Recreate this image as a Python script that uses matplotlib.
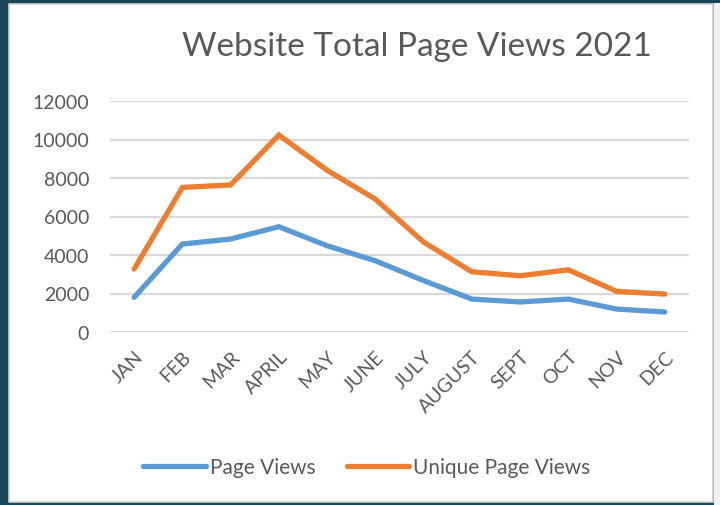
import matplotlib.pyplot as plt
from matplotlib.patches import Rectangle

months = ['JAN', 'FEB', 'MAR', 'APRIL', 'MAY', 'JUNE', 'JULY', 'AUGUST',
          'SEPT', 'OCT', 'NOV', 'DEC']
page_views = [1800, 4570, 4830, 5470, 4480, 3700, 2670, 1710, 1560, 1710, 1190, 1040]
unique_views = [3270, 7510, 7640, 10230, 8400, 6900, 4670, 3130, 2920, 3230, 2110, 1970]
yticks = [0, 2000, 4000, 6000, 8000, 10000, 12000]

plt.rcParams['font.family'] = ['Lato', 'DejaVu Sans']
txt = '#595959'

fig = plt.figure(figsize=(7.2, 5.06), dpi=100)
fig.patch.set_facecolor('#1a4756')
# white chart area with thin grey frame
fig.patches.append(Rectangle((9 / 720, 3 / 506), 704 / 720, 498 / 506,
                             transform=fig.transFigure, facecolor='white',
                             edgecolor='#d0d0d0', linewidth=1.2, zorder=0))
fig.patches.append(Rectangle((714 / 720, 0), 6 / 720, 502 / 506,
                             transform=fig.transFigure, facecolor='#f2f2f2',
                             edgecolor='none', zorder=0))

ax = fig.add_axes([110 / 720, 1 - 333 / 506, 579 / 720, 231 / 506])
ax.set_zorder(2)
ax.set_facecolor('none')
x = list(range(len(months)))
ax.plot(x, page_views, color='#5b9bd5', lw=3.8, solid_capstyle='round',
        solid_joinstyle='miter', label='Page Views', zorder=3)
ax.plot(x, unique_views, color='#ed7d31', lw=3.8, solid_capstyle='round',
        solid_joinstyle='miter', label='Unique Page Views', zorder=3)

ax.set_xlim(-0.5, len(months) - 0.5)
ax.set_ylim(0, 12000)
ax.set_yticks(yticks)
ax.set_yticklabels([str(v) for v in yticks], fontsize=14, color=txt)
ax.set_xticks(x)
ax.set_xticklabels(months, rotation=45, ha='right', rotation_mode='anchor',
                   fontsize=14, color=txt)
ax.tick_params(axis='x', length=0, pad=11)
ax.tick_params(axis='y', length=0, pad=15)
ax.grid(axis='y', color='#d9d9d9', lw=1.6, zorder=0)
for s in ax.spines.values():
    s.set_visible(False)

fig.text(417 / 720, 1 - 47 / 506, 'Website Total Page Views 2021', ha='center',
         va='center', fontsize=24, color=txt, zorder=3)

leg = fig.legend(loc='center', bbox_to_anchor=(367 / 720, 1 - 468 / 506), ncol=2,
                 frameon=False, fontsize=15, handlelength=3.0, handletextpad=0.2,
                 columnspacing=1.5, labelcolor=txt)
leg.set_zorder(3)

fig.savefig('out.png', dpi=100, facecolor=fig.get_facecolor())
